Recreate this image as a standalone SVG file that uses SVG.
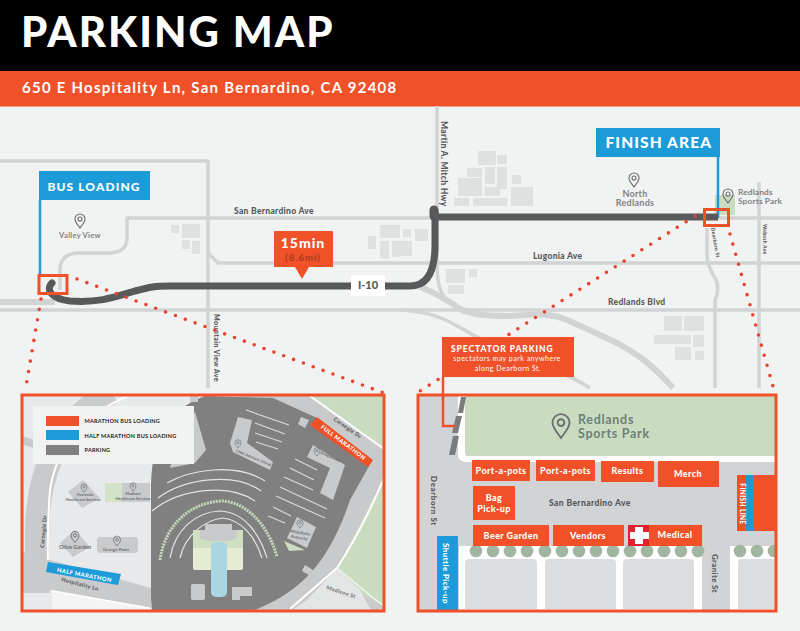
<svg xmlns="http://www.w3.org/2000/svg" width="800" height="631" viewBox="0 0 800 631">
<style>
text{font-family:"Lato","Liberation Sans",sans-serif;font-weight:700}
.road{fill:none;stroke:#d1d3d4;stroke-width:3.5;stroke-linejoin:round}
.hw{fill:none;stroke:#d1d3d4;stroke-width:6;stroke-linecap:butt}
.bld{fill:#dfe0e0}
.lbl{fill:#58595b;font-size:8.5px;font-weight:900;letter-spacing:.3px}
.place{fill:#808285;font-size:9px;letter-spacing:.3px;font-weight:700}
.pin{fill:none;stroke:#6d6e71;stroke-width:1.1}
.dots{fill:none;stroke:#e9432f;stroke-width:3.6;stroke-linecap:round;stroke-dasharray:0 10.500}
.or{fill:#f05129}
.bl{fill:#1c9bd8}
.w{fill:#fff;font-weight:900;letter-spacing:.4px}
.ctr{text-anchor:middle}
.frame{fill:none;stroke:#f05129;stroke-width:3}
.small{fill:#6d6e71;font-size:4px;font-weight:700;text-anchor:middle}
.arc{fill:none;stroke:#e4e4e4;stroke-width:1.2}
.stall{stroke:#d8d8d8;stroke-width:1.2;fill:none}
</style>
<defs>
<path id="pinshape" class="pin" d="M0 7C-3 3-5 1-5-2A5 5 0 0 1 5-2C5 1 3 3 0 7ZM2-2A2 2 0 1 1-2-2A2 2 0 1 1 2-2Z"/>
<clipPath id="lp"><rect x="22" y="395" width="362" height="216"/></clipPath>
<clipPath id="rp"><rect x="418" y="395" width="358" height="216"/></clipPath>
</defs>
<rect width="800" height="631" fill="#f1f2f2"/>
<g id="header">
<rect width="800" height="71" fill="#000"/>
<rect y="71" width="800" height="35.500" class="or"/>
<text x="21" y="47" font-size="42" style="font-weight:900;letter-spacing:2px" fill="#fff">PARKING MAP</text>
<text x="22" y="93" font-size="15" style="letter-spacing:1.25px" fill="#fff">650 E Hospitality Ln, San Bernardino, CA 92408</text>
</g>
<g id="base-map">
<path class="road" d="M0 161H208V388"/>
<path class="road" d="M800 218H127V238Q127 252 110 253H78Q60 254 60 270V290"/>
<path class="road" d="M208 253L218 263H800"/>
<path class="road" d="M0 310H800"/>
<path class="road" d="M437 106V270Q438 290 445 298Q452 306 465 313"/>
<path class="hw" d="M0 302H55"/>
<path class="hw" d="M420 287C435 292 445 300 453 304C465 314 480 316 510 316C540 314 550 313 567 320C585 328 600 335 617 343C635 353 650 362 673 388"/>
<path class="road" d="M400 310C420 311 433 314 450 322C465 330 475 337 490 343L540 365C560 372 575 378 590 388"/>
<path class="road" d="M707 228V255Q707 265 716 280Q720 290 715 300V388"/>
<path class="road" d="M759 182V388"/>
<g class="bld">
<rect x="171" y="225" width="8" height="8"/><rect x="182" y="224" width="18" height="14"/><rect x="182" y="240" width="8" height="9"/><rect x="192" y="241" width="8" height="13"/>
<rect x="368" y="236" width="8" height="13"/><rect x="380" y="225" width="20" height="13"/><rect x="380" y="241" width="9" height="17"/><rect x="392" y="241" width="8" height="16"/>
<rect x="478" y="151" width="18" height="14"/><rect x="497" y="155" width="10" height="9"/><rect x="467" y="168" width="15" height="9"/><rect x="485" y="167" width="10" height="17"/><rect x="497" y="167" width="10" height="22"/><rect x="512" y="175" width="9" height="9"/>
<rect x="458" y="178" width="24" height="18"/><rect x="485" y="187" width="15" height="9"/><rect x="454" y="198" width="15" height="8"/><rect x="473" y="198" width="34" height="8"/><rect x="511" y="187" width="22" height="19"/>
<rect x="403" y="229" width="8" height="8"/><rect x="415" y="229" width="13" height="12"/><rect x="400" y="241" width="12" height="15"/>
<rect x="446" y="269" width="19" height="14"/><rect x="469" y="269" width="8" height="8"/><rect x="448" y="285" width="16" height="9"/>
<rect x="664" y="316" width="18" height="15"/><rect x="684" y="316" width="20" height="15"/><rect x="654" y="335" width="37" height="9"/><rect x="693" y="335" width="11" height="12"/><rect x="675" y="347" width="16" height="13"/><rect x="695" y="351" width="9" height="9"/>
</g>
<rect x="715" y="195" width="20" height="20" fill="#c9dcc0"/>
<text class="lbl" x="234" y="214">San Bernardino Ave</text>
<text class="lbl" x="533" y="259">Lugonia Ave</text>
<text class="lbl" x="608" y="305">Redlands Blvd</text>
<text class="lbl" transform="translate(441 121) rotate(90)">Martin A. Mitch Hwy</text>
<text class="lbl" transform="translate(214 314) rotate(90)" style="font-size:7.200px">Mountain View  Ave</text>
<text class="lbl" transform="translate(711 228) rotate(80)" style="font-size:5px">Dearborn St</text>
<text class="lbl" transform="translate(763 224) rotate(90)" style="font-size:5px">Wabash Ave</text>
<use href="#pinshape" x="80" y="221"/>
<text class="place ctr" x="80" y="238" style="font-size:7.500px">Valley View</text>
<use href="#pinshape" x="634" y="180"/>
<text class="place ctr" x="635" y="197">North</text>
<text class="place ctr" x="635" y="206">Redlands</text>
<use href="#pinshape" x="728" y="196"/>
<text class="place" x="738" y="195" style="font-size:8.300px;letter-spacing:.15px">Redlands</text>
<text class="place" x="738" y="204" style="font-size:8.300px;letter-spacing:.15px">Sports Park</text>
</g>
<g id="connectors">
<path d="M40 275V200M718 218V157" fill="none" stroke="#1c9bd8" stroke-width="2.500"/>
<path d="M52 283C45 290 52 299 70 301C100 303 115 297 135 291C150 287 155 286 170 286H410C428 286 435 270 435 245V212" fill="none" stroke="#58595b" stroke-width="7" stroke-linecap="round"/>
<path d="M434 210V216" stroke="#58595b" stroke-width="9" stroke-linecap="round"/>
<path d="M435 217H718" stroke="#58595b" stroke-width="7" fill="none"/>
<path class="dots" d="M77 279L384 393"/>
<path class="dots" d="M41 299L25 392"/>
<path class="dots" d="M695 216L420 391"/>
<path class="dots" d="M730 234L774 390"/>
<rect x="39" y="275.500" width="28" height="18" class="frame"/>
<rect x="704.500" y="209.500" width="24" height="16" class="frame"/>
</g>
<g id="bus-loading"><rect x="39" y="171" width="111" height="29" class="bl"/><text class="w" x="47.500" y="191" font-size="12" style="letter-spacing:1.100px">BUS LOADING</text></g>
<g id="finish-area"><rect x="596" y="128" width="124" height="29" class="bl"/><text class="w" x="605.500" y="148" font-size="15.500" style="letter-spacing:1.100px">FINISH AREA</text></g>
<g id="duration">
<path d="M275 231H332Q333 231 333 232V267H309L302 279L295 267H274V232Q274 231 275 231Z" class="or"/>
<text class="w ctr" x="303" y="248" font-size="14" style="letter-spacing:1px">15min</text>
<text class="ctr" x="303" y="261" font-size="9.500" fill="#a53a20" style="letter-spacing:1px">(8.6mi)</text>
</g>
<g id="i10"><rect x="351" y="275" width="34" height="21" fill="#fff"/><text class="ctr" x="368" y="289" font-size="11" fill="#58595b" style="font-weight:900">I-10</text></g>
<g id="left-panel">
<g clip-path="url(#lp)">
<rect x="22" y="395" width="362" height="216" fill="#e8e9ea"/>
<path d="M112 392C60 420 38 470 37 530V575" fill="none" stroke="#c9cacb" stroke-width="24"/>
<path d="M22 440L40 446" stroke="#c9cacb" stroke-width="8"/>
<path d="M22 552L50 560L151 588V608L52 590L22 588Z" fill="#c9cacb"/>
<path d="M22 588H50" stroke="#c9cacb" stroke-width="10"/>
<path d="M128 396Q60 425 50 490Q47 530 48 560" fill="none" stroke="#fff" stroke-width="2"/>
<path d="M52 591L151 608V612H52Z" fill="#f4f4f4"/>
<path d="M52 591L149 608" stroke="#fff" stroke-width="1.500"/>
<path d="M240 395H384V612H240Z" fill="#c9cacb"/>
<path d="M313 397H384V449Z" fill="#c9dcc0"/>
<path d="M384 478L337 568L366 597L384 606Z" fill="#c9dcc0"/>
<path d="M307 600L337 568L360 590L372 612H290Z" fill="#e4e6e6"/>
<path d="M310 396L384 449M384 478Q362 530 337 568L290 609" fill="none" stroke="#fff" stroke-width="2"/>
<path d="M337 568L372 597L384 606" fill="none" stroke="#f4f4f4" stroke-width="1.500"/>
<path d="M205 396Q152 415 151 485V598L152 612H250C290 596 325 575 350 500L372 461L317 418L273 398Z" fill="#808080"/>
<g fill="#c9cacb">
<path d="M195 412L206 450L195 463L170 468L180 430Z"/>
<path d="M238 417L252 420L247 443L273 462L270 470L233 452L230 443Z"/>
<path d="M313 445L345 465L333 500L320 493L330 468L307 457Z"/>
<path d="M297 517L316 527L307 548L287 538Z"/>
<rect x="190" y="395" width="8" height="7"/><path d="M301 417L309 420L305 428L298 424Z"/><path d="M305 565L313 570L309 575L302 571Z"/>
<rect x="191" y="584" width="14" height="16" rx="2"/><path d="M232 587H252V596H240V600H232Z"/>
</g>
<path d="M284 541L305 550L289 551Z" fill="#c9dcc0"/>
<g class="stall"><path d="M246 410L289 425M255 423L285 434M255 433L282 442M256 442L278 449M295 459L317 470M290 468L314 480M284 477L313 490M280 487L327 509M276 496L325 518M273 507L291 516M268 516L285 523"/></g>
<g class="arc">
<path d="M167 483C190 470 235 462 265 481"/><path d="M158 498C185 478 235 472 261 491"/><path d="M152 511C180 488 230 483 255 501"/>
<path d="M170 558C175 530 195 512 220 511C245 512 260 535 267 558"/>
<path d="M180 558C185 535 205 520 223 518C240 520 255 535 262 558"/>
</g>
<path d="M160 560C165 525 190 502 223 501C250 503 270 530 277 557" fill="none" stroke="#c5dabb" stroke-width="3" stroke-dasharray="2 1"/>
<rect x="193" y="530" width="50" height="40" rx="2" fill="#e6ebd3"/>
<rect x="193" y="530" width="50" height="18" fill="#cfdfc2"/>
<path d="M205 524H232V530H237V538L228 541H208L200 538V530H205Z" fill="#c9cacb"/>
<rect x="211" y="542" width="16" height="55" rx="5" fill="#a9d6e2"/>
<path d="M83 480L100 498L82 508L68 492Z" fill="#c9cacb"/>
<rect x="105" y="483" width="17" height="19" fill="#d3e2c8"/><rect x="122" y="483" width="28" height="19" fill="#c9cacb"/>
<path d="M75 530L90 547L73 557L60 543Z" fill="#c9cacb"/>
<rect x="97" y="537" width="41" height="16" rx="3" fill="#c9cacb"/>
<use href="#pinshape" transform="translate(84 488) scale(.6)"/><use href="#pinshape" transform="translate(133 487) scale(.6)"/><use href="#pinshape" transform="translate(75 537) scale(.8)"/><use href="#pinshape" transform="translate(117 541) scale(.7)"/>
<text class="small" x="85" y="496">Hacienda</text><text class="small" x="83" y="501">Healthcare Services</text>
<text class="small" x="133" y="495">Madison</text><text class="small" x="133" y="500">Healthcare Services</text>
<text class="small" style="font-size:5.500px" x="75" y="549">Olive Garden</text>
<text class="small" style="font-size:4.500px" x="116" y="551">Orange Point</text>
<text class="lbl" transform="translate(44 548) rotate(-85)" style="font-size:5.500px">Carnegie Dr</text>
<text class="lbl" transform="translate(61 581) rotate(15)" style="font-size:5.500px">Hospitality Ln</text>
<text class="lbl" transform="translate(333 420) rotate(35)" style="font-size:5.500px">Carnegie Dr</text>
<text class="small" transform="translate(253 459) rotate(22)">CNM Advisory Group</text>
<text class="small" transform="translate(330 458) rotate(25)">Bridgewater</text>
<text class="small" x="300" y="534" transform="rotate(10 300 534)">WildeRubin</text><text class="small" x="299" y="539" transform="rotate(10 299 539)">Authority</text>
<use href="#pinshape" transform="translate(238 444) scale(.6)"/><use href="#pinshape" transform="translate(317 452) scale(.6)"/><use href="#pinshape" transform="translate(300 524) scale(.6)"/>
<text class="lbl" transform="translate(326 589) rotate(18)" style="font-size:5.500px;fill:#777">Madison St</text>
</g>
<g id="full-marathon"><path d="M310 425L317 417L373 460L368 467Z" class="or"/><text class="w ctr" transform="translate(342 444) rotate(37)" font-size="5.800">FULL MARATHON</text></g>
<g id="half-marathon"><path d="M48 562L121 574L118 585L46 572Z" class="bl"/><text class="w ctr" transform="translate(84 577) rotate(11)" font-size="5.800">HALF MARATHON</text></g>
<g id="legend">
<rect x="33" y="406" width="161" height="58" fill="#f1f2f2"/>
<rect x="46" y="416" width="33" height="10" class="or"/><rect x="46" y="430" width="33" height="10" class="bl"/><rect x="46" y="445" width="33" height="10" fill="#808080"/>
<g font-size="5.500" fill="#231f20" style="letter-spacing:.25px"><text x="84.500" y="423">MARATHON BUS LOADING</text><text x="84.500" y="437.500">HALF MARATHON BUS LOADING</text><text x="84.500" y="452">PARKING</text></g>
</g>
<rect x="22" y="395" width="362" height="216" class="frame"/>
</g>
<g id="right-panel">
<g clip-path="url(#rp)">
<rect x="418" y="395" width="358" height="216" fill="#d1d3d4"/>
<path d="M458 395V455Q458 462 467 462H776V456H467Q465 456 465 450V395Z" fill="#fff"/>
<path d="M465 395H776V456H473Q465 456 465 448Z" fill="#c9dcc0"/>
<path d="M461 397H466L463 413H458ZM456 416H462L458 433H452ZM453 436H459L455 455H449Z" fill="#7b7c7e"/>
<rect x="459" y="546" width="243" height="65" fill="#fff"/><rect x="730" y="546" width="46" height="65" fill="#fff"/>
<path d="M465 609V563Q465 559 469 559H533Q537 559 537 563V609ZM545 609V563Q545 559 549 559H612Q616 559 616 563V609ZM623 609V563Q623 559 627 559H690Q694 559 694 563V609ZM738 609V563Q738 559 742 559H776V609Z" fill="#dcddde"/>
<g fill="#a1b6a1"><circle cx="476" cy="551" r="6.300"/><circle cx="493" cy="551" r="6.300"/><circle cx="510" cy="551" r="6.300"/><circle cx="527" cy="551" r="6.300"/><circle cx="545" cy="551" r="6.300"/><circle cx="562" cy="551" r="6.300"/><circle cx="579" cy="551" r="6.300"/><circle cx="596" cy="551" r="6.300"/><circle cx="613" cy="551" r="6.300"/><circle cx="630" cy="551" r="6.300"/><circle cx="647" cy="551" r="6.300"/><circle cx="664" cy="551" r="6.300"/><circle cx="681" cy="551" r="6.300"/><circle cx="698" cy="551" r="6.300"/><circle cx="740" cy="551" r="6.300"/><circle cx="757" cy="551" r="6.300"/><circle cx="774" cy="551" r="6.300"/></g>
</g>
<use href="#pinshape" transform="translate(561 426) scale(1.700)" style="stroke:#6e7f79"/>
<text x="578" y="424" font-size="12.500" fill="#6e7f79" style="letter-spacing:.7px">Redlands</text>
<text x="578" y="438" font-size="12.500" fill="#6e7f79" style="letter-spacing:.7px">Sports Park</text>
<text class="lbl" x="549" y="506" style="letter-spacing:.4px">San Bernardino Ave</text>
<text class="lbl" transform="translate(431 476) rotate(90)" style="font-size:8px;letter-spacing:.6px">Dearborn  St</text>
<text class="lbl" transform="translate(712 554) rotate(90)" style="font-size:8px">Granite  St</text>
<g id="port-a-pots-1"><rect x="472" y="460" width="58" height="21" class="or"/><text class="w ctr" x="501" y="474" font-size="9">Port-a-pots</text></g>
<g id="port-a-pots-2"><rect x="536" y="460" width="59" height="21" class="or"/><text class="w ctr" x="565.500" y="474" font-size="9">Port-a-pots</text></g>
<g id="results"><rect x="601" y="461" width="53" height="21" class="or"/><text class="w ctr" x="627.500" y="474" font-size="9">Results</text></g>
<g id="merch"><rect x="658" y="461" width="61" height="26" class="or"/><text class="w ctr" x="688" y="477" font-size="9">Merch</text></g>
<g id="bag-pickup"><rect x="473" y="486" width="42" height="34" class="or"/><text class="w ctr" x="494" y="501" font-size="9">Bag</text><text class="w ctr" x="494" y="512" font-size="9">Pick-up</text></g>
<g id="beer-garden"><rect x="473" y="525" width="76" height="21" class="or"/><text class="w ctr" x="511" y="539" font-size="9">Beer Garden</text></g>
<g id="vendors"><rect x="553" y="525" width="71" height="21" class="or"/><text class="w ctr" x="588" y="539" font-size="9">Vendors</text></g>
<g id="medical"><rect x="628" y="525" width="74" height="21" class="or"/><rect x="628" y="525" width="21" height="21" fill="#e3202f"/><path d="M635 527H643V532H649V539H643V544H635V539H630V532H635Z" fill="#fff"/><text class="w ctr" x="675" y="538" font-size="9">Medical</text></g>
<g id="finish-line"><rect x="737" y="475" width="39" height="56" class="or"/><rect x="746" y="475" width="8" height="56" class="bl"/><text class="w ctr" transform="translate(739.500 504) rotate(90)" font-size="6.500">FINISH LINE</text></g>
<g id="shuttle"><rect x="437" y="536" width="21" height="74" class="bl"/><text class="w" transform="translate(443 543) rotate(90)" font-size="8">Shuttle Pick-up</text></g>
<rect x="418" y="395" width="358" height="216" class="frame"/>
</g>
<g id="spectator-parking">
<path d="M443 377V426H455" fill="none" stroke="#f05129" stroke-width="2.500"/>
<rect x="442" y="337" width="132" height="40" class="or"/>
<text class="w" x="451" y="352" font-size="8.500" style="letter-spacing:.9px">SPECTATOR PARKING</text>
<text x="507" y="361" font-size="7" fill="#fff" text-anchor="middle" style="letter-spacing:.5px;font-weight:400">spectators may park anywhere</text>
<text x="508" y="371" font-size="7" fill="#fff" text-anchor="middle" style="letter-spacing:.5px;font-weight:400">along Dearborn St.</text>
</g>
</svg>
